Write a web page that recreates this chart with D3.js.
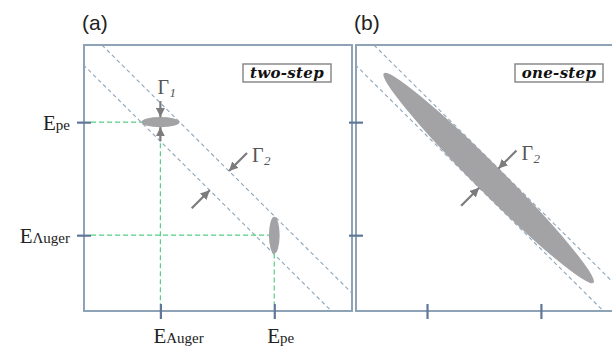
<!DOCTYPE html>
<html>
<head>
<meta charset="utf-8">
<script src="https://cdn.jsdelivr.net/npm/d3@7"></script>
<style>
  html, body { margin: 0; padding: 0; background: #fff; }
  svg { display: block; }
</style>
</head>
<body>
<div id="chart"></div>
<script>
// Energy positions on both axes (arbitrary units, axis spans 0..10)
const energyNames = ["Auger", "pe"];
const energyValues = [2.85, 7.1];
// Ticks on the bottom axis of the one-step panel
const oneStepTicks = [2.65, 6.9];
// Total-energy band: centre (E1 + E2) and half width
const bandCentre = 9.95;
const bandHalf = 0.72;
// Two-step peaks: [x, y, half-width along x, half-width along y]
const twoStepPeaks = [
  [2.85, 7.1, 0.71, 0.19],
  [7.1, 2.85, 0.2, 0.69]
];
// One-step peak: centre along the band and half-lengths (along, across)
const oneStepPeak = [4.95, 5.53, 0.52];
// Arrow tips across the band: E1 - E2 position where the arrows meet
const arrowPosA = 0.15;
const arrowPosB = -0.04;
const panelTitles = ["(a)", "(b)"];
const modeLabels = ["two-step", "one-step"];

const W = 612, H = 347;
const svg = d3.select("#chart").append("svg")
  .attr("width", W).attr("height", H);

const serif = "Liberation Serif";
const boxFont = "DejaVu Serif";
const frameColor = "#8ea3b6";
const tickColor = "#5f7899";
const bandColor = "#8ea6bb";
const greenColor = "#55d083";
const blobColor = "#a3a3a6";
const arrowColor = "#7c7c7e";

const panelW = 268, panelH = 266, plotTop = 45;
const panels = [{ x0: 84 }, { x0: 356 }];

const defs = svg.append("defs");
defs.append("marker")
  .attr("id", "head")
  .attr("viewBox", "0 0 10 10")
  .attr("refX", 10).attr("refY", 5)
  .attr("markerWidth", 4.2).attr("markerHeight", 4.2)
  .attr("markerUnits", "strokeWidth")
  .attr("orient", "auto")
  .append("path")
  .attr("d", "M0,0 L10,5 L0,10 Z")
  .attr("fill", arrowColor);

panels.forEach((p, i) => {
  const x = d3.scaleLinear().domain([0, 10]).range([p.x0, p.x0 + panelW]);
  const y = d3.scaleLinear().domain([0, 10]).range([plotTop + panelH, plotTop]);
  p.x = x; p.y = y;

  defs.append("clipPath").attr("id", "clip" + i)
    .append("rect")
    .attr("x", x(0)).attr("y", y(10))
    .attr("width", panelW).attr("height", panelH);

  const g = svg.append("g");
  const inner = g.append("g").attr("clip-path", `url(#clip${i})`);

  // band edges E1 + E2 = const
  [bandCentre + bandHalf, bandCentre - bandHalf].forEach(c => {
    inner.append("line")
      .attr("x1", x(c - 10)).attr("y1", y(10))
      .attr("x2", x(10)).attr("y2", y(c - 10))
      .attr("stroke", bandColor).attr("stroke-width", 1.1)
      .attr("stroke-dasharray", "4,3");
  });

  p.g = g; p.inner = inner;
});

// Γ with a slanted subscript
function gammaLabel(g, px, py, sub) {
  const t = g.append("g").attr("transform", `translate(${px},${py})`);
  t.append("text").attr("x", 0).attr("y", 0)
    .style("font-family", serif).attr("font-size", 20).attr("fill", "#555")
    .text("Γ");
  t.append("text")
    .attr("x", 12).attr("y", 3)
    .style("font-family", serif).style("font-style", "italic")
    .attr("font-size", 13).attr("fill", "#555")
    .text(sub);
}

// ---------- panel (a): two-step ----------
{
  const { x, y, inner, g } = panels[0];
  // green guides from axes to the peaks
  twoStepPeaks.forEach(([px, py, hx, hy]) => {
    inner.append("line")
      .attr("x1", x(0) + 7).attr("y1", y(py))
      .attr("x2", x(px - hx)).attr("y2", y(py))
      .attr("stroke", greenColor).attr("stroke-width", 1.2)
      .attr("stroke-dasharray", "5,3");
    inner.append("line")
      .attr("x1", x(px)).attr("y1", y(py - hy))
      .attr("x2", x(px)).attr("y2", y(0) - 7)
      .attr("stroke", greenColor).attr("stroke-width", 1.2)
      .attr("stroke-dasharray", "5,3");
  });
  inner.selectAll("ellipse.peak").data(twoStepPeaks).join("ellipse")
    .attr("class", "peak")
    .attr("cx", d => x(d[0])).attr("cy", d => y(d[1]))
    .attr("rx", d => x(d[2]) - x(0)).attr("ry", d => y(0) - y(d[3]))
    .attr("fill", blobColor);

  // Γ1 arrows (vertical, onto the first peak)
  const [p1x, p1y, , p1h] = twoStepPeaks[0];
  g.append("line")
    .attr("x1", x(p1x)).attr("y1", y(p1y + p1h) - 16)
    .attr("x2", x(p1x)).attr("y2", y(p1y + p1h))
    .attr("stroke", arrowColor).attr("stroke-width", 2.2)
    .attr("marker-end", "url(#head)");
  g.append("line")
    .attr("x1", x(p1x)).attr("y1", y(p1y - p1h) + 14)
    .attr("x2", x(p1x)).attr("y2", y(p1y - p1h))
    .attr("stroke", arrowColor).attr("stroke-width", 2.2)
    .attr("marker-end", "url(#head)");
  gammaLabel(g, x(p1x) - 3, y(p1y + p1h) - 23, "1");
}

// Γ2 arrows across the band for a panel
function bandArrows(p, d, label) {
  const { x, y, g } = p;
  const len = 18; // pixels along the diagonal
  const up = bandCentre + bandHalf, lo = bandCentre - bandHalf;
  // tip on upper edge: X + Y = up, X - Y = d
  const ux = (up + d) / 2, uy = (up - d) / 2;
  const lx = (lo + d) / 2, ly = (lo - d) / 2;
  g.append("line")
    .attr("x1", x(ux) + len).attr("y1", y(uy) - len)
    .attr("x2", x(ux)).attr("y2", y(uy))
    .attr("stroke", arrowColor).attr("stroke-width", 2.2)
    .attr("marker-end", "url(#head)");
  g.append("line")
    .attr("x1", x(lx) - len).attr("y1", y(ly) + len)
    .attr("x2", x(lx)).attr("y2", y(ly))
    .attr("stroke", arrowColor).attr("stroke-width", 2.2)
    .attr("marker-end", "url(#head)");
  gammaLabel(g, x(ux) + 23, y(uy) - 9, label);
}
bandArrows(panels[0], arrowPosA, "2");

// ---------- panel (b): one-step ----------
{
  const { x, y, inner } = panels[1];
  const [c, along, across] = oneStepPeak;
  const cx = x(c), cy = y(bandCentre - c);
  const k = (x(1) - x(0));
  inner.append("ellipse")
    .attr("cx", cx).attr("cy", cy)
    .attr("rx", along * k).attr("ry", across * k)
    .attr("transform", `rotate(45,${cx},${cy})`)
    .attr("fill", blobColor);
}
bandArrows(panels[1], arrowPosB, "2");

// ---------- frames, ticks, titles ----------
panels.forEach((p, i) => {
  const { x, y, g } = p;
  g.append("rect")
    .attr("x", x(0)).attr("y", y(10))
    .attr("width", panelW).attr("height", panelH)
    .attr("fill", "none").attr("stroke", frameColor).attr("stroke-width", 2);

  const xt = i === 0 ? energyValues : oneStepTicks;
  const yAxis = d3.axisLeft(y).tickValues(energyValues).tickSize(0).tickFormat("");
  const xAxis = d3.axisBottom(x).tickValues(xt).tickSize(0).tickFormat("");
  const ya = g.append("g").attr("transform", `translate(${x(0)},0)`).call(yAxis);
  const xa = g.append("g").attr("transform", `translate(0,${y(0)})`).call(xAxis);
  [ya, xa].forEach(a => a.select(".domain").remove());
  ya.selectAll(".tick line").attr("x1", -7).attr("x2", 7)
    .attr("stroke", tickColor).attr("stroke-width", 2.2);
  xa.selectAll(".tick line").attr("y1", -7).attr("y2", 8)
    .attr("stroke", tickColor).attr("stroke-width", 2.2);

  svg.append("text")
    .attr("x", x(0) - 2).attr("y", 30)
    .style("font-family", "Liberation Sans")
    .attr("font-size", 21).attr("fill", "#222")
    .text(panelTitles[i]);

  // mode label box (bold italic serif)
  const bx = x(0) + 159, by = 64;
  g.append("rect")
    .attr("x", bx).attr("y", by).attr("width", 88).attr("height", 18)
    .attr("fill", "#fff").attr("stroke", "#8a8a8a").attr("stroke-width", 1.5);
  g.append("text")
    .attr("x", bx + 44).attr("y", by + 14)
    .attr("text-anchor", "middle")
    .style("font-family", boxFont)
    .style("font-weight", "bold").style("font-style", "italic")
    .attr("font-size", 15).attr("letter-spacing", 0.3)
    .attr("fill", "#111")
    .text(modeLabels[i]);
});

// energy labels on panel (a)
{
  const { x, y } = panels[0];
  const leftNames = ["Λuger", "pe"];
  energyValues.forEach((v, j) => {
    const t = svg.append("text")
      .attr("x", 70).attr("y", y(v) + 8)
      .attr("text-anchor", "end")
      .style("font-family", serif)
      .attr("fill", "#222");
    t.append("tspan").text("E").attr("font-size", 21);
    t.append("tspan").text(leftNames[j]).attr("font-size", 15);

    const b = svg.append("text")
      .attr("x", x(v) - 7).attr("y", 343)
      .style("font-family", serif)
      .attr("fill", "#222");
    b.append("tspan").text("E").attr("font-size", 21);
    b.append("tspan").text(energyNames[j]).attr("font-size", 15);
  });
}
</script>
</body>
</html>
